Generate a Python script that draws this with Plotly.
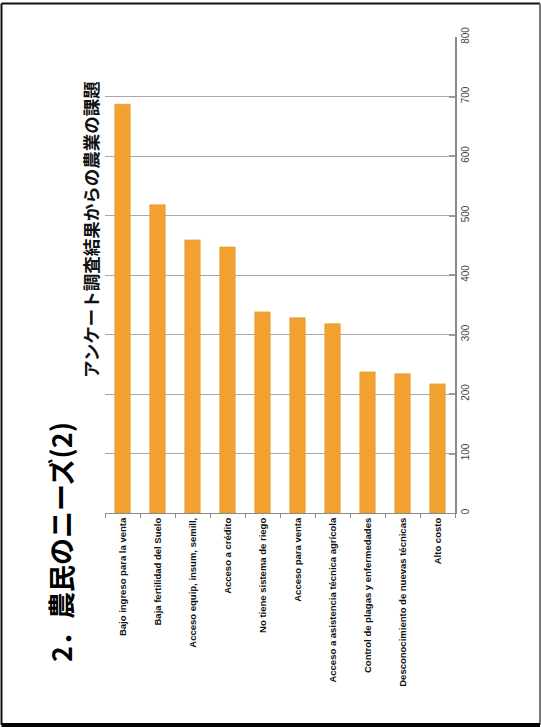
import plotly.graph_objects as go

# Survey results: agricultural problems reported by farmers
categories = [
    "Bajo ingreso para la venta",
    "Baja fertilidad del Suelo",
    "Acceso equip, insum, semill,",
    "Acceso a crédito",
    "No tiene sistema de riego",
    "Acceso para venta",
    "Acceso a asistencia técnica agrícola",
    "Control de plagas y enfermedades",
    "Desconocimiento de nuevas técnicas",
    "Alto costo",
]
counts = [687, 518, 459, 447, 338, 328, 318, 237, 234, 217]
value_ticks = [0, 100, 200, 300, 400, 500, 600, 700, 800]

title_text = "2．農民のニーズ(2)"
subtitle_text = "アンケート調査結果からの農業の課題"

W, H = 541, 727
L, R, T, B = 105, 455, 37, 513


def px_x(x):
    return (x - L) / (R - L)


def px_y(y):
    return (B - y) / (B - T)


fig = go.Figure(
    go.Bar(
        x=categories,
        y=counts,
        marker=dict(color="#F2A231", line=dict(color="#E39228", width=0.6)),
        width=0.44,
    )
)

fig.update_layout(
    width=W,
    height=H,
    margin=dict(l=L, r=W - R, t=T, b=H - B),
    paper_bgcolor="white",
    plot_bgcolor="white",
    showlegend=False,
    font=dict(family="Liberation Sans, Arial, sans-serif"),
)

fig.update_xaxes(
    tickangle=-90,
    tickfont=dict(size=9.5, color="#111"),
    tickprefix="<b>",
    ticksuffix="</b>",
    showline=True,
    linecolor="#8a8a8a",
    linewidth=1,
    ticks="outside",
    ticklen=4,
    tickcolor="#8a8a8a",
    tickson="boundaries",
    showgrid=False,
)

fig.update_yaxes(
    side="right",
    range=[0, 800],
    tickvals=value_ticks,
    tickangle=-90,
    tickfont=dict(size=10, color="#444"),
    showline=True,
    linecolor="#8a8a8a",
    linewidth=2,
    ticks="inside",
    ticklen=6,
    tickwidth=2,
    tickcolor="#999",
    showgrid=True,
    gridcolor="#a8a8a8",
    gridwidth=1,
    zeroline=False,
)

# slide heading and subheading, rotated
fig.add_annotation(
    x=px_x(60), y=px_y(542), xref="paper", yref="paper",
    xanchor="center", yanchor="middle",
    text="<b>" + title_text + "</b>", textangle=-90, showarrow=False,
    font=dict(size=27, color="black", family="Noto Sans CJK JP"),
)
fig.add_annotation(
    x=px_x(90), y=px_y(230), xref="paper", yref="paper",
    xanchor="center", yanchor="middle",
    text="<b>" + subtitle_text + "</b>", textangle=-90, showarrow=False,
    font=dict(size=17.5, color="#111", family="Noto Sans CJK JP"),
)

# slide frame
frame = [
    (1.5, 3.5, 1.5, 725, "#111", 2),
    (1.5, 3.5, 540, 3.5, "#111", 2),
    (540, 3.5, 540, 725, "#777", 2),
    (1.5, 725, 540, 725, "#000", 4),
]
for x0, y0, x1, y1, c, w in frame:
    fig.add_shape(
        type="line", xref="paper", yref="paper",
        x0=px_x(x0), y0=px_y(y0), x1=px_x(x1), y1=px_y(y1),
        line=dict(color=c, width=w),
    )

fig.write_html("out.html")
